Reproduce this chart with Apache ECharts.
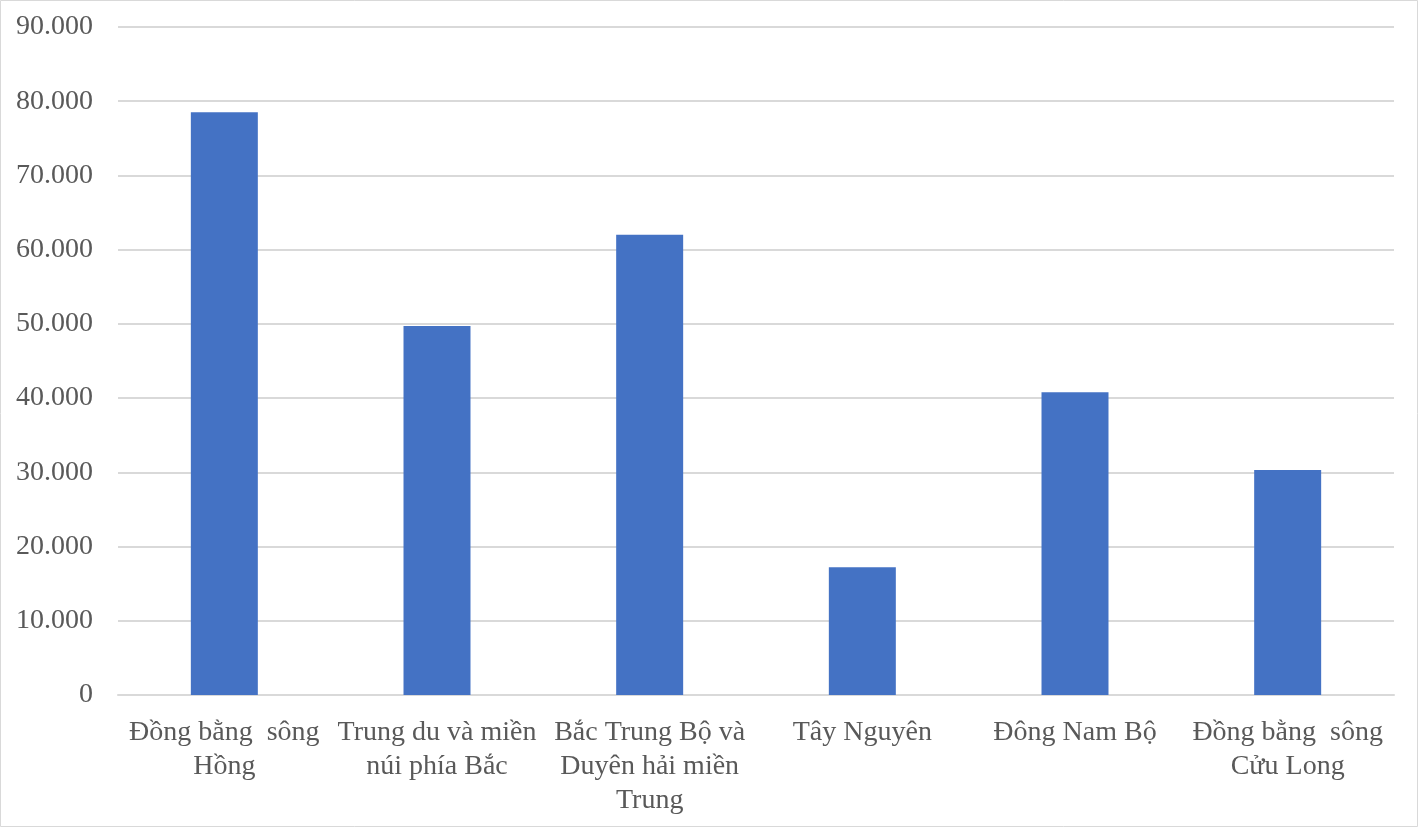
<!DOCTYPE html>
<html>
<head>
<meta charset="utf-8">
<script src="https://cdn.jsdelivr.net/npm/echarts@6/dist/echarts.min.js"></script>
<style>
  html, body { margin: 0; padding: 0; background: #fff; }
  #chart { width: 1419px; height: 828px; }
</style>
</head>
<body>
<div id="chart"></div>
<script>
const categories = [
  'Đồng bằng  sông\nHồng',
  'Trung du và miền\nnúi phía Bắc',
  'Bắc Trung Bộ và\nDuyên hải miền\nTrung',
  'Tây Nguyên',
  'Đông Nam Bộ',
  'Đồng bằng  sông\nCửu Long'
];
const values = [78500, 49700, 62000, 17200, 40800, 30300];
const yMin = 0;
const yMax = 90000;
const yStep = 10000;

const chart = echarts.init(document.getElementById('chart'), null, { renderer: 'canvas' });
const textColor = '#595959';
const fontFamily = '"Liberation Serif", "Times New Roman", serif';

chart.setOption({
  animation: false,
  backgroundColor: '#ffffff',
  graphic: [{
    type: 'rect',
    shape: { x: 0.5, y: 0.5, width: 1417, height: 826 },
    style: { fill: 'none', stroke: '#d9d9d9', lineWidth: 1 },
    silent: true
  }],
  grid: { left: 118, right: 25, top: 27, bottom: 133, containLabel: false },
  xAxis: {
    type: 'category',
    data: categories,
    axisLine: { show: true, lineStyle: { color: '#d9d9d9', width: 2 } },
    axisTick: { show: false },
    axisLabel: {
      interval: 0,
      color: textColor,
      fontFamily: fontFamily,
      fontSize: 28,
      lineHeight: 34,
      margin: 21
    }
  },
  yAxis: {
    type: 'value',
    min: yMin,
    max: yMax,
    interval: yStep,
    axisLine: { show: false },
    axisTick: { show: false },
    splitLine: { lineStyle: { color: '#d9d9d9', width: 2 } },
    axisLabel: {
      color: textColor,
      fontFamily: fontFamily,
      fontSize: 28,
      margin: 25,
      padding: [6, 0, 0, 0],
      formatter: function (v) {
        return v === 0 ? '0' : v.toLocaleString('de-DE');
      }
    }
  },
  series: [{
    type: 'bar',
    data: values,
    barWidth: '31.5%',
    itemStyle: { color: '#4472c4' }
  }]
});
</script>
</body>
</html>
